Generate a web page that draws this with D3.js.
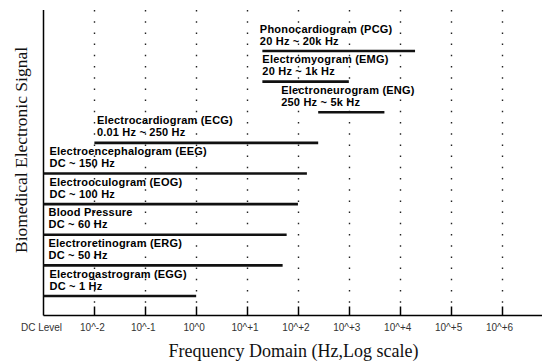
<!DOCTYPE html>
<html>
<head>
<meta charset="utf-8">
<script src="https://cdn.jsdelivr.net/npm/d3@7"></script>
<style>
  html, body { margin: 0; padding: 0; background: #fff; }
  svg { display: block; }
</style>
</head>
<body>
<svg id="chart" width="542" height="362"></svg>
<script>
// ---- data ----
const rowNames = [
  "Phonocardiogram (PCG)",
  "Electromyogram (EMG)",
  "Electroneurogram (ENG)",
  "Electrocardiogram (ECG)",
  "Electroencephalogram (EEG)",
  "Electrooculogram (EOG)",
  "Blood Pressure",
  "Electroretinogram (ERG)",
  "Electrogastrogram (EGG)"
];
const rangeLabels = [
  "20 Hz ~ 20k Hz",
  "20 Hz ~ 1k Hz",
  "250 Hz ~ 5k Hz",
  "0.01 Hz ~ 250 Hz",
  "DC ~ 150 Hz",
  "DC ~ 100 Hz",
  "DC ~ 60 Hz",
  "DC ~ 50 Hz",
  "DC ~ 1 Hz"
];
// 0 means DC
const lowHz  = [20, 20, 250, 0.01, 0, 0, 0, 0, 0];
const highHz = [20000, 1000, 5000, 250, 150, 100, 60, 50, 1];

const tickValues = [0, 1e-2, 1e-1, 1e0, 1e1, 1e2, 1e3, 1e4, 1e5, 1e6];
const tickLabels = ["DC Level", "10^-2", "10^-1", "10^0", "10^+1", "10^+2", "10^+3", "10^+4", "10^+5", "10^+6"];

const xTitle = "Frequency Domain (Hz,Log scale)";
const yTitle = "Biomedical Electronic Signal";

// ---- layout ----
const DC_POS = 1e-3;              // where "DC" sits on the log axis
const labelDx = [-2.5, 0, -37, 2.5, 6, 6, 5, 5, 6];
const axisY = 315.5, axisTop = 10, axisRight = 542;

const svg = d3.select("#chart");
const x = d3.scaleLog().domain([DC_POS, 1e6]).range([43.5, 501.5]);
const fx = v => x(v === 0 ? DC_POS : v);
const y = d3.scalePoint().domain(rowNames).range([51, 296]);

// dotted decade gridlines
const decades = tickValues.filter(v => v > 0);
svg.append("g").selectAll("line").data(decades).join("line")
  .attr("x1", d => Math.round(fx(d)) + 0.5).attr("x2", d => Math.round(fx(d)) + 0.5)
  .attr("y1", axisTop).attr("y2", axisY - 9)
  .attr("stroke", "#222").attr("stroke-width", 1.4)
  .attr("stroke-dasharray", "1.5,9.7");

// tick marks
svg.append("g").selectAll("line").data(decades).join("line")
  .attr("x1", d => Math.round(fx(d)) + 0.5).attr("x2", d => Math.round(fx(d)) + 0.5)
  .attr("y1", axisY - 9).attr("y2", axisY)
  .attr("stroke", "#000").attr("stroke-width", 1.5);

// axes
svg.append("line").attr("x1", fx(0)).attr("x2", fx(0))
  .attr("y1", axisTop).attr("y2", axisY)
  .attr("stroke", "#000").attr("stroke-width", 1.5);
svg.append("line").attr("x1", fx(0)).attr("x2", axisRight)
  .attr("y1", axisY).attr("y2", axisY)
  .attr("stroke", "#000").attr("stroke-width", 1.5);

// tick labels
svg.append("g").selectAll("text").data(tickValues).join("text")
  .attr("x", d => fx(d) - 2)
  .attr("y", 331)
  .attr("text-anchor", "middle")
  .attr("font-family", "'Liberation Sans', Arial, sans-serif")
  .attr("font-size", 10)
  .attr("fill", "#333")
  .text((d, i) => tickLabels[i]);

// bars
const rows = rowNames.map((n, i) => ({ name: n, range: rangeLabels[i], lo: lowHz[i], hi: highHz[i], dx: labelDx[i] }));
svg.append("g").selectAll("line").data(rows).join("line")
  .attr("x1", d => fx(d.lo)).attr("x2", d => fx(d.hi))
  .attr("y1", d => y(d.name)).attr("y2", d => y(d.name))
  .attr("stroke", "#111").attr("stroke-width", 2.6);

// labels
const lab = svg.append("g")
  .attr("font-family", "'Liberation Sans', Arial, sans-serif")
  .attr("font-size", 11).attr("font-weight", "bold").attr("fill", "#000")
  .attr("letter-spacing", 0.2);
lab.selectAll("text.n").data(rows).join("text").attr("class", "n")
  .attr("x", d => fx(d.lo) + d.dx).attr("y", d => y(d.name) - 18.5)
  .text(d => d.name);
lab.selectAll("text.r").data(rows).join("text").attr("class", "r")
  .attr("x", d => fx(d.lo) + d.dx).attr("y", d => y(d.name) - 6.5)
  .text(d => d.range);

// axis titles
svg.append("text").attr("x", 293.5).attr("y", 357)
  .attr("text-anchor", "middle")
  .attr("font-family", "'Liberation Serif', 'Times New Roman', serif")
  .attr("font-size", 18).attr("fill", "#111")
  .text(xTitle);
svg.append("text")
  .attr("transform", "translate(27,150) rotate(-90)")
  .attr("text-anchor", "middle")
  .attr("font-family", "'Liberation Serif', 'Times New Roman', serif")
  .attr("font-size", 17.5).attr("fill", "#111")
  .text(yTitle);
</script>
</body>
</html>
